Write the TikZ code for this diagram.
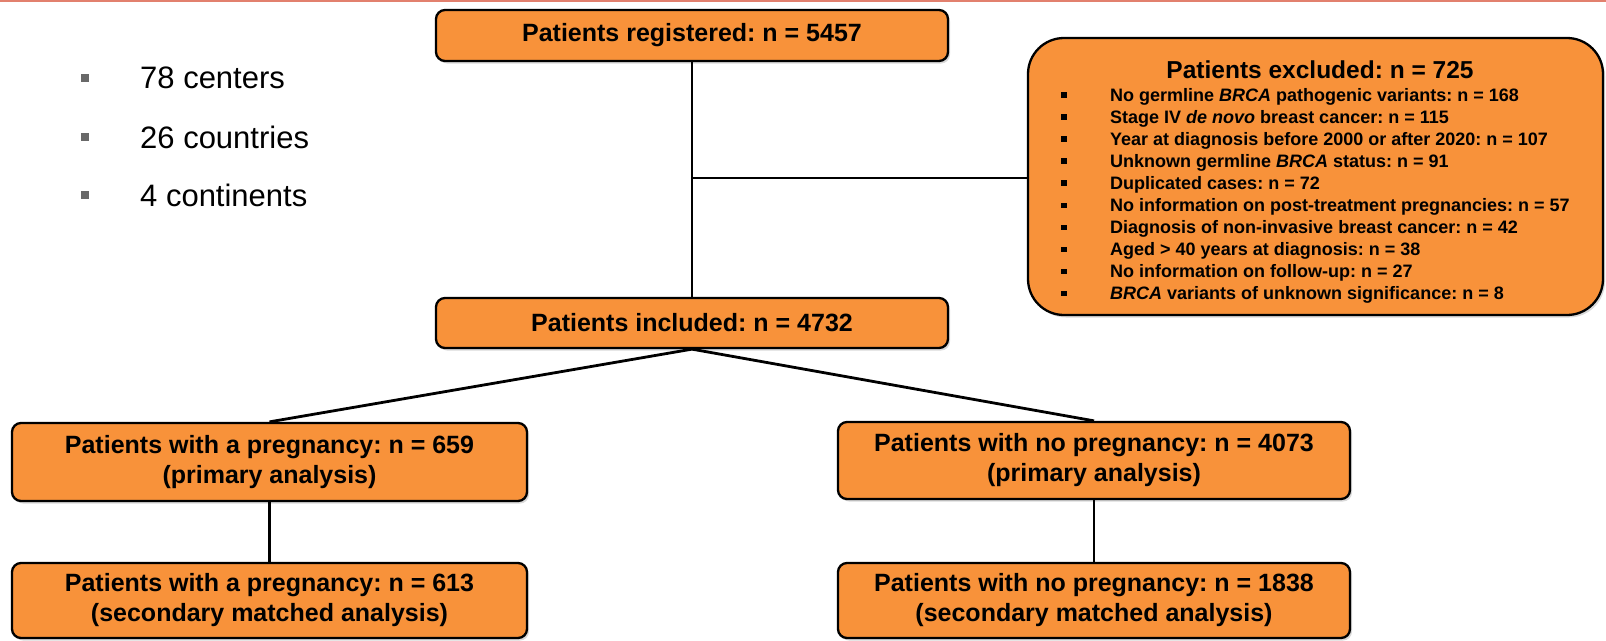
\documentclass[tikz,border=0pt]{standalone}
\usepackage{fontspec}
\setmainfont{Liberation Sans}
\usetikzlibrary{shadows}
\frenchspacing
\definecolor{boxorange}{RGB}{248,146,58}
\definecolor{topline}{RGB}{226,128,110}
\definecolor{bulletgray}{RGB}{105,105,105}
\tikzset{
  flowbox/.style={draw=black, line width=2.3pt, fill=boxorange, rounded corners=9pt,
    align=center, font=\bfseries\fontsize{25}{30}\selectfont, inner sep=0pt,
    drop shadow={shadow xshift=2pt, shadow yshift=-2.5pt, opacity=0.3}},
  bigbox/.style={flowbox, rounded corners=36pt},
  link/.style={draw=black, line width=2.8pt},
  sidebullet/.style={fill=bulletgray, minimum size=8pt, inner sep=0pt},
  sidetext/.style={anchor=west, inner sep=0pt, font=\fontsize{31}{36}\selectfont},
  exbullet/.style={fill=black, minimum size=5.5pt, inner sep=0pt},
  extext/.style={anchor=base west, inner sep=0pt, font=\bfseries\fontsize{18}{22}\selectfont},
  extitle/.style={inner sep=0pt, font=\bfseries\fontsize{24.5}{28}\selectfont},
}
\begin{document}
\begin{tikzpicture}[x=1pt, y=-1pt]
\useasboundingbox (0,0) rectangle (1606,640);
\draw[topline, line width=2pt] (0,1) -- (1606,1);

% side bullets
\node[sidebullet] (sb1) at (85,78) {};
\node[sidetext] (st1) at (140,78) {78 centers};
\node[sidebullet] (sb2) at (85,137) {};
\node[sidetext] (st2) at (140,137) {26 countries};
\node[sidebullet] (sb3) at (85,195) {};
\node[sidetext] (st3) at (140,195) {4 continents};

% boxes
\node[flowbox, minimum width=512pt, minimum height=51pt] (reg) at (692,35.5) {Patients registered: n = 5457};
\node[flowbox, minimum width=512pt, minimum height=50pt] (inc) at (692,323) {Patients included: n = 4732};
\node[bigbox, minimum width=575pt, minimum height=277pt] (exc) at (1315.5,176.5) {};
\node[flowbox, minimum width=515pt, minimum height=78pt] (pl1) at (269.5,462) {Patients with a pregnancy: n = 659\\(primary analysis)};
\node[flowbox, minimum width=512pt, minimum height=77pt] (pr1) at (1094,460.5) {Patients with no pregnancy: n = 4073\\(primary analysis)};
\node[flowbox, minimum width=515pt, minimum height=75pt] (pl2) at (269.5,600.5) {Patients with a pregnancy: n = 613\\(secondary matched analysis)};
\node[flowbox, minimum width=512pt, minimum height=75pt] (pr2) at (1094,600.5) {Patients with no pregnancy: n = 1838\\(secondary matched analysis)};

% excluded contents
\node[extitle] (ext) at (1320,70) {Patients excluded: n = 725};
\foreach \i/\t in {0/{No germline \textit{BRCA} pathogenic variants: n = 168},
  1/{Stage IV \textit{de novo} breast cancer: n = 115},
  2/{Year at diagnosis before 2000 or after 2020: n = 107},
  3/{Unknown germline \textit{BRCA} status: n = 91},
  4/{Duplicated cases: n = 72},
  5/{No information on post-treatment pregnancies: n = 57},
  6/{Diagnosis of non-invasive breast cancer: n = 42},
  7/{Aged > 40 years at diagnosis: n = 38},
  8/{No information on follow-up: n = 27},
  9/{\textit{BRCA} variants of unknown significance: n = 8}}{
  \node[exbullet] (exb\i) at (1064,{95+22.05*\i}) {};
  \node[extext] (ex\i) at (1110,{95+22.05*\i+6.5}) {\t};
}

% connectors
\coordinate (j) at (692,178);
\draw[link] (reg.south) -- (inc.north);
\draw[link] (j) -- (j -| exc.west);
\draw[link] (inc.south) -- (pl1.north);
\draw[link] (inc.south) -- (pr1.north);
\draw[link] (pl1.south) -- (pl2.north);
\draw[link] (pr1.south) -- (pr2.north);
\end{tikzpicture}
\end{document}
